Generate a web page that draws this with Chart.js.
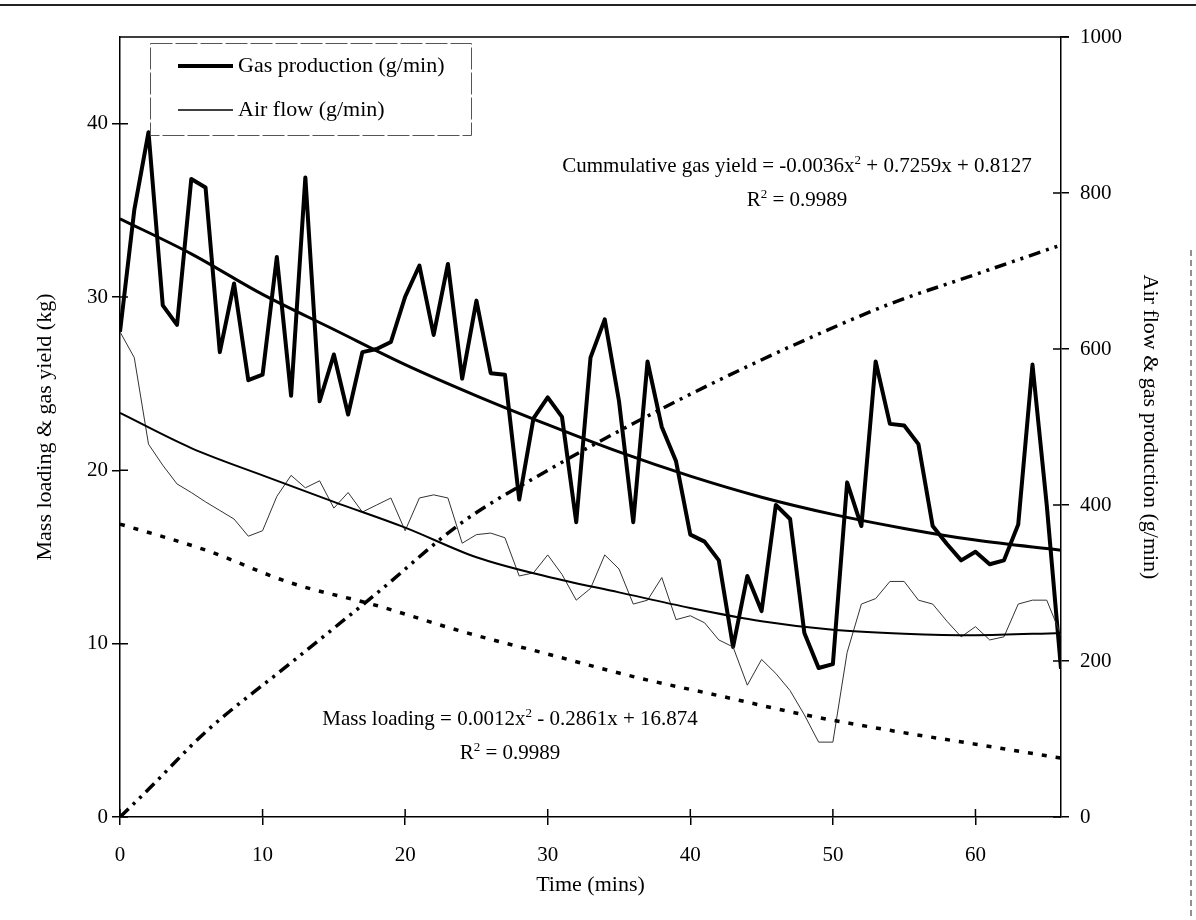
<!DOCTYPE html>
<html>
<head>
<meta charset="utf-8">
<script src="https://cdn.jsdelivr.net/npm/chart.js@4.4.1/dist/chart.umd.min.js"></script>
<style>
  body { margin: 0; background: #fff; }
  #wrap { position: relative; width: 1196px; height: 920px; }
</style>
</head>
<body>
<div id="wrap"><canvas id="chart" width="1196" height="920"></canvas></div>
<script>
// Time axis (mins) for the measured series
const minutes = [0, 1, 2, 3, 4, 5, 6, 7, 8, 9, 10, 11, 12, 13, 14, 15, 16, 17, 18, 19,
    20, 21, 22, 23, 24, 25, 26, 27, 28, 29, 30, 31, 32, 33, 34, 35, 36, 37, 38, 39,
    40, 41, 42, 43, 44, 45, 46, 47, 48, 49, 50, 51, 52, 53, 54, 55, 56, 57, 58, 59,
    60, 61, 62, 63, 64, 65, 66];

// Gas production (g/min) - right axis
const gasProduction = [622, 778, 878, 656, 631, 818, 807, 596, 684, 560,
    567, 718, 540, 820, 533, 593, 516, 596, 600, 609,
    667, 707, 618, 709, 562, 662, 569, 567, 407, 511,
    538, 513, 378, 589, 638, 533, 378, 584, 500, 456,
    362, 353, 329, 218, 309, 264, 400, 382, 236, 191,
    196, 429, 373, 584, 504, 502, 478, 373, 350, 329,
    340, 324, 329, 375, 580, 400, 190];

// Air flow (g/min) - right axis
const airFlow = [622, 589, 478, 451, 427, 416, 404, 393, 382, 360,
    367, 411, 438, 422, 431, 396, 416, 391, 400, 409,
    367, 409, 413, 409, 351, 362, 364, 358, 309, 313,
    336, 311, 278, 293, 336, 318, 273, 278, 307, 253,
    258, 249, 227, 218, 169, 202, 184, 162, 131, 96,
    96, 211, 273, 280, 302, 302, 278, 273, 251, 231,
    244, 227, 231, 273, 278, 278, 233];

// Smooth trend curves through gas production / air flow (g/min)
const trendMinutes = [0, 5, 10, 15, 20, 25, 30, 35, 40, 45, 50, 55, 60, 66];
const gasTrend = [767, 722, 670, 625, 580, 540, 503, 468, 437, 410, 388, 370, 355, 342];
const airTrend = [518, 473, 438, 404, 371, 333, 308, 288, 268, 251, 240, 235, 233, 236];

// Mass loading (kg) - left axis
const massMinutes = [0, 6, 12, 18, 24, 30, 36, 42, 48, 54, 60, 66];
const massLoading = [16.9, 15.4, 13.5, 12.2, 10.7, 9.4, 8.1, 7.0, 5.9, 5.0, 4.2, 3.4];

// Cumulative gas yield (kg) - left axis
const yieldMinutes = [0, 2, 6, 12, 18, 24, 30, 36, 42, 48, 54, 60, 66];
const gasYield = [0, 1.6, 4.9, 8.9, 12.9, 17.0, 20.0, 22.7, 25.2, 27.5, 29.6, 31.3, 33.0];

const serif = "'Liberation Serif', 'Times New Roman', serif";
Chart.defaults.font.family = serif;
Chart.defaults.color = '#000';

function pts(xs, ys) {
    return xs.map((x, i) => ({ x: x, y: ys[i] }));
}

// draws a line of text with superscript parts, centred on cx, baseline cy
function drawRich(ctx, parts, cx, cy, size) {
    const base = size + 'px ' + serif;
    const sup = Math.round(size * 0.6) + 'px ' + serif;
    let w = 0;
    parts.forEach(p => { ctx.font = p.sup ? sup : base; w += ctx.measureText(p.t).width; });
    let x = cx - w / 2;
    ctx.textAlign = 'left';
    ctx.textBaseline = 'alphabetic';
    parts.forEach(p => {
        ctx.font = p.sup ? sup : base;
        ctx.fillText(p.t, x, p.sup ? cy - size * 0.4 : cy);
        x += ctx.measureText(p.t).width;
    });
}

const decorations = {
    id: 'decorations',
    beforeDraw(chart) {
        const ctx = chart.ctx;
        ctx.save();
        ctx.fillStyle = '#fff';
        ctx.fillRect(0, 0, chart.width, chart.height);
        // page frame remnants
        ctx.strokeStyle = '#222';
        ctx.lineWidth = 2;
        ctx.beginPath();
        ctx.moveTo(0, 5); ctx.lineTo(chart.width, 5);
        ctx.stroke();
        ctx.lineWidth = 1;
        ctx.setLineDash([6, 4]);
        ctx.beginPath();
        ctx.moveTo(1191, 250); ctx.lineTo(1191, chart.height);
        ctx.stroke();
        ctx.restore();
    },
    afterDraw(chart) {
        const { ctx, chartArea: a, scales } = chart;
        ctx.save();
        ctx.strokeStyle = '#000';
        ctx.lineWidth = 1.5;
        ctx.beginPath();
        ctx.moveTo(a.left, a.top); ctx.lineTo(a.right + 8, a.top);
        scales.x.ticks.forEach(t => {
            const px = scales.x.getPixelForValue(t.value);
            ctx.moveTo(px, a.bottom); ctx.lineTo(px, a.bottom - 8);
        });
        scales.y.ticks.forEach(t => {
            const py = scales.y.getPixelForValue(t.value);
            ctx.moveTo(a.left, py); ctx.lineTo(a.left + 8, py);
        });
        scales.y1.ticks.forEach(t => {
            const py = scales.y1.getPixelForValue(t.value);
            ctx.moveTo(a.right, py); ctx.lineTo(a.right - 8, py);
        });
        ctx.stroke();

        // legend box
        const lx = 150, ly = 43, lw = 321, lh = 92;
        ctx.fillStyle = '#fff';
        ctx.fillRect(lx, ly, lw, lh);
        ctx.strokeStyle = '#555';
        ctx.lineWidth = 1;
        ctx.setLineDash([22, 3]);
        ctx.strokeRect(lx + 0.5, ly + 0.5, lw, lh);
        ctx.setLineDash([]);
        ctx.strokeStyle = '#000';
        ctx.lineWidth = 4;
        ctx.beginPath(); ctx.moveTo(178, 66); ctx.lineTo(233, 66); ctx.stroke();
        ctx.lineWidth = 1.5;
        ctx.beginPath(); ctx.moveTo(178, 110); ctx.lineTo(233, 110); ctx.stroke();
        ctx.fillStyle = '#000';
        ctx.font = '22px ' + serif;
        ctx.textAlign = 'left';
        ctx.textBaseline = 'middle';
        ctx.fillText('Gas production (g/min)', 238, 66);
        ctx.fillText('Air flow (g/min)', 238, 110);

        // trend equations
        drawRich(ctx, [{ t: 'Cummulative gas yield = -0.0036x' }, { t: '2', sup: true },
            { t: ' + 0.7259x + 0.8127' }], 797, 172, 21);
        drawRich(ctx, [{ t: 'R' }, { t: '2', sup: true }, { t: ' = 0.9989' }], 797, 206, 21);
        drawRich(ctx, [{ t: 'Mass loading = 0.0012x' }, { t: '2', sup: true },
            { t: ' - 0.2861x + 16.874' }], 510, 725, 21);
        drawRich(ctx, [{ t: 'R' }, { t: '2', sup: true }, { t: ' = 0.9989' }], 510, 759, 21);
        ctx.restore();
    }
};

new Chart(document.getElementById('chart'), {
    type: 'line',
    data: {
        datasets: [
            {
                label: 'Mass loading',
                data: pts(massMinutes, massLoading),
                yAxisID: 'y',
                borderColor: '#000',
                borderWidth: 3.5,
                borderDash: [5, 9],
                cubicInterpolationMode: 'monotone',
                pointRadius: 0
            },
            {
                label: 'Cummulative gas yield',
                data: pts(yieldMinutes, gasYield),
                yAxisID: 'y',
                borderColor: '#000',
                borderWidth: 3.5,
                borderDash: [12, 6, 3, 6, 3, 6],
                cubicInterpolationMode: 'monotone',
                pointRadius: 0
            },
            {
                label: 'Air flow trend',
                data: pts(trendMinutes, airTrend),
                yAxisID: 'y1',
                borderColor: '#000',
                borderWidth: 2,
                cubicInterpolationMode: 'monotone',
                pointRadius: 0
            },
            {
                label: 'Gas production trend',
                data: pts(trendMinutes, gasTrend),
                yAxisID: 'y1',
                borderColor: '#000',
                borderWidth: 3,
                cubicInterpolationMode: 'monotone',
                pointRadius: 0
            },
            {
                label: 'Air flow (g/min)',
                data: pts(minutes, airFlow),
                yAxisID: 'y1',
                borderColor: '#333',
                borderWidth: 1,
                tension: 0,
                pointRadius: 0
            },
            {
                label: 'Gas production (g/min)',
                data: pts(minutes, gasProduction),
                yAxisID: 'y1',
                borderColor: '#000',
                borderWidth: 4,
                borderJoinStyle: 'round',
                tension: 0,
                pointRadius: 0
            }
        ]
    },
    options: {
        responsive: false,
        animation: false,
        layout: { padding: { top: 37, left: 0, right: 0, bottom: 0 } },
        plugins: {
            legend: { display: false },
            tooltip: { enabled: false }
        },
        scales: {
            x: {
                type: 'linear',
                min: 0,
                max: 66,
                ticks: { stepSize: 10, includeBounds: false, padding: 18, font: { size: 21 }, color: '#000' },
                grid: { drawOnChartArea: false, tickLength: 8, color: '#000', lineWidth: 1.5 },
                border: { color: '#000', width: 1.5 },
                title: { display: true, text: 'Time (mins)', font: { size: 22 }, color: '#000', padding: { top: 0, bottom: 22 } },
                afterFit(scale) { scale.height = 103; }
            },
            y: {
                type: 'linear',
                position: 'left',
                min: 0,
                max: 45,
                ticks: { stepSize: 10, includeBounds: false, padding: 4, font: { size: 21 }, color: '#000' },
                grid: { drawOnChartArea: false, tickLength: 8, color: '#000', lineWidth: 1.5 },
                border: { color: '#000', width: 1.5 },
                title: { display: true, text: 'Mass loading & gas yield (kg)', font: { size: 22 }, color: '#000', padding: { top: 32, bottom: 0 } },
                afterFit(scale) { scale.width = 120; }
            },
            y1: {
                type: 'linear',
                position: 'right',
                min: 0,
                max: 1000,
                ticks: {
                    stepSize: 200, padding: 11, font: { size: 21 }, color: '#000',
                    callback: function(value) { return String(value); }
                },
                grid: { drawOnChartArea: false, tickLength: 8, color: '#000', lineWidth: 1.5 },
                border: { color: '#000', width: 1.5 },
                title: { display: true, text: 'Air flow & gas production (g/min)', font: { size: 22 }, color: '#000', padding: { top: 33, bottom: 0 } },
                afterFit(scale) { scale.width = 135; }
            }
        }
    },
    plugins: [decorations]
});
</script>
</body>
</html>
